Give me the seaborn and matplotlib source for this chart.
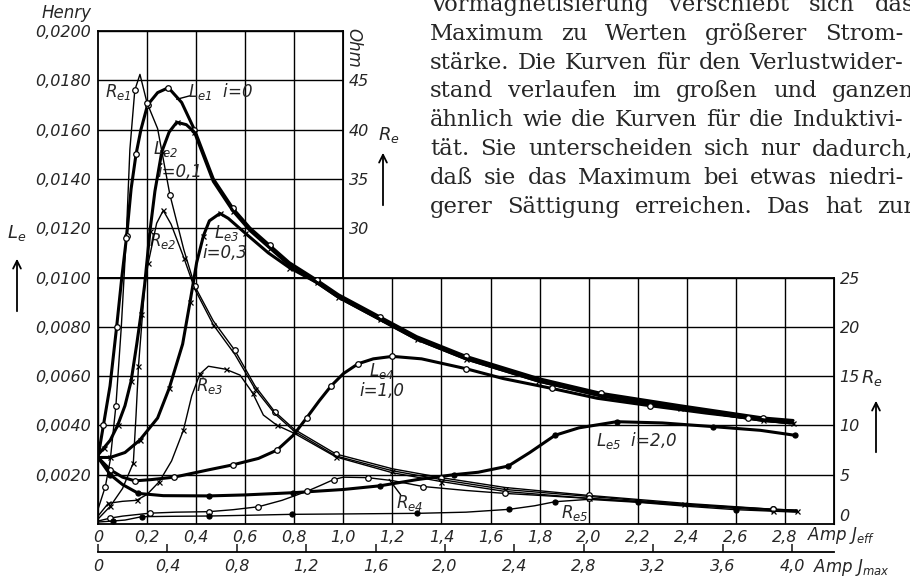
import numpy as np
import matplotlib
matplotlib.use("Agg")
import matplotlib.pyplot as plt
from matplotlib.patches import FancyArrowPatch
import seaborn as sns

# Induktivitaet L_e (Henry) ueber J_eff (Amp), Vormagnetisierung i
le1_x = [0.0, 0.022, 0.049, 0.076, 0.097, 0.117, 0.135, 0.155, 0.175, 0.202, 0.243, 0.287, 0.341, 0.393, 0.47,
         0.55, 0.62, 0.7, 0.78, 0.891, 0.98, 1.149, 1.299, 1.5, 1.795, 2.05, 2.372, 2.712, 2.833]
le1_y = [0.0027, 0.0040, 0.0056, 0.0080, 0.0100, 0.0117, 0.0136, 0.0150, 0.0160, 0.0170, 0.0175, 0.0177, 0.0171,
         0.0160, 0.0140, 0.0128, 0.0120, 0.0113, 0.0106, 0.0099, 0.0093, 0.0084, 0.0076, 0.0068, 0.0059, 0.0053,
         0.0048, 0.0043, 0.0042]
le2_x = [0.0, 0.025, 0.05, 0.08, 0.11, 0.135, 0.158, 0.175, 0.19, 0.212, 0.232, 0.26, 0.29, 0.321, 0.36, 0.393,
         0.47, 0.55, 0.62, 0.7, 0.78, 0.891, 0.98, 1.149, 1.299, 1.5, 1.795, 2.05, 2.372, 2.712, 2.833]
le2_y = [0.0028, 0.0031, 0.0034, 0.0040, 0.0048, 0.0058, 0.0073, 0.0085, 0.0097, 0.0119, 0.0135, 0.0151, 0.0159,
         0.0163, 0.0162, 0.0159, 0.0139, 0.0127, 0.0119, 0.0112, 0.0105, 0.0098, 0.0092, 0.0083, 0.0075, 0.0067,
         0.0058, 0.0052, 0.0047, 0.0042, 0.0041]
le3_x = [0.0, 0.05, 0.11, 0.17, 0.243, 0.29, 0.345, 0.375, 0.402, 0.43, 0.454, 0.497, 0.531, 0.6, 0.694, 0.78,
         0.891, 0.98, 1.149, 1.299, 1.5, 1.795, 2.05, 2.372, 2.712, 2.833]
le3_y = [0.0027, 0.0027, 0.0029, 0.0034, 0.0043, 0.0055, 0.0073, 0.0090, 0.0106, 0.0117, 0.0123, 0.0126, 0.0124,
         0.0118, 0.0110, 0.0104, 0.0098, 0.0092, 0.0083, 0.0075, 0.0067, 0.0058, 0.0052, 0.0047, 0.0042, 0.0041]
le4_x = [0.0, 0.05, 0.1, 0.15, 0.216, 0.31, 0.452, 0.55, 0.654, 0.73, 0.796, 0.85, 0.902, 0.95, 1.0, 1.06, 1.122,
         1.2, 1.319, 1.5, 1.652, 1.85, 2.035, 2.25, 2.478, 2.65, 2.82]
le4_y = [0.0027, 0.0022, 0.0019, 0.00175, 0.0018, 0.0019, 0.0022, 0.0024, 0.00266, 0.0030, 0.0036, 0.0043, 0.0050,
         0.0056, 0.0061, 0.0065, 0.0067, 0.0068, 0.0067, 0.0063, 0.0059, 0.0055, 0.0051, 0.0048, 0.0045, 0.0043,
         0.0041]
le5_x = [0.0, 0.05, 0.1, 0.165, 0.266, 0.454, 0.6, 0.796, 1.0, 1.15, 1.3, 1.45, 1.55, 1.672, 1.76, 1.863, 1.96,
         2.114, 2.3, 2.508, 2.7, 2.84]
le5_y = [0.0027, 0.0020, 0.0016, 0.00124, 0.00115, 0.00114, 0.00118, 0.00127, 0.0014, 0.00155, 0.0018, 0.0020,
         0.0021, 0.00235, 0.0029, 0.0036, 0.0039, 0.00415, 0.0041, 0.00395, 0.0038, 0.0036]

# Verlustwiderstand R_e (Ohm)
re1_x = [0.0, 0.03, 0.05, 0.073, 0.095, 0.115, 0.13, 0.15, 0.171, 0.2, 0.243, 0.293, 0.35, 0.395, 0.47, 0.558,
         0.64, 0.72, 0.8, 0.97, 1.2, 1.4, 1.66, 2.0, 2.39, 2.75, 2.85]
re1_r = [1.5, 3.8, 6.5, 12, 20, 29, 38, 44, 45.6, 42.7, 40.1, 33.4, 27.8, 24.1, 20.6, 17.6, 14.0, 11.4, 9.6, 7.1,
         5.6, 4.7, 3.7, 2.9, 2.1, 1.5, 1.4]
re2_x = [0.0, 0.05, 0.1, 0.144, 0.155, 0.165, 0.19, 0.205, 0.239, 0.266, 0.298, 0.35, 0.395, 0.47, 0.558, 0.64,
         0.72, 0.8, 0.97, 1.2, 1.4, 1.66, 2.0, 2.39, 2.75, 2.85]
re2_r = [0.5, 1.8, 3.6, 6.2, 11, 16, 24, 26.5, 30.5, 31.8, 30.4, 27.0, 23.8, 20.2, 17.2, 13.7, 11.2, 9.4, 6.9,
         5.4, 4.5, 3.5, 2.8, 2.0, 1.45, 1.35]
re3_x = [0.0, 0.042, 0.1, 0.157, 0.2, 0.25, 0.3, 0.348, 0.382, 0.415, 0.45, 0.52, 0.579, 0.63, 0.674, 0.73, 0.8,
         0.97, 1.2, 1.4, 1.66, 2.0, 2.39, 2.75, 2.85]
re3_r = [0.8, 2.1, 2.3, 2.4, 3.0, 4.3, 6.4, 9.5, 13.0, 15.2, 16.0, 15.7, 15.1, 13.3, 11.05, 10.0, 9.2, 6.8, 5.2,
         4.3, 3.3, 2.6, 1.9, 1.35, 1.25]
re4_x = [0.0, 0.05, 0.1, 0.212, 0.318, 0.452, 0.55, 0.654, 0.75, 0.85, 0.906, 0.96, 1.0, 1.1, 1.2, 1.326, 1.5,
         1.66, 1.8, 2.0, 2.39, 2.75, 2.85]
re4_r = [0.3, 0.6, 0.8, 1.1, 1.2, 1.25, 1.45, 1.75, 2.4, 3.3, 3.9, 4.5, 4.75, 4.7, 4.4, 3.8, 3.4, 3.1, 2.9, 2.6,
         2.0, 1.5, 1.4]
re5_x = [0.0, 0.06, 0.11, 0.178, 0.3, 0.454, 0.6, 0.79, 1.0, 1.3, 1.5, 1.677, 1.78, 1.863, 2.0, 2.2, 2.4, 2.6, 2.85]
re5_r = [0.2, 0.3, 0.4, 0.74, 0.78, 0.81, 0.88, 0.98, 1.02, 1.08, 1.2, 1.49, 1.85, 2.26, 2.5, 2.2, 1.8, 1.45, 1.2]

# Achsen
jeff_ticks = [0, 0.2, 0.4, 0.6, 0.8, 1.0, 1.2, 1.4, 1.6, 1.8, 2.0, 2.2, 2.4, 2.6, 2.8]
jmax_ticks = [0, 0.4, 0.8, 1.2, 1.6, 2.0, 2.4, 2.8, 3.2, 3.6, 4.0]
le_lo_ticks = [0.002, 0.004, 0.006, 0.008, 0.010]
le_hi_ticks = [0.012, 0.014, 0.016, 0.018, 0.020]
re_lo_ticks = [0, 5, 10, 15, 20, 25]
re_hi_ticks = [30, 35, 40, 45]

text_lines = [
    "Vormagnetisierung verschiebt sich das",
    "Maximum zu Werten größerer Strom-",
    "stärke. Die Kurven für den Verlustwider-",
    "stand verlaufen im großen und ganzen",
    "ähnlich wie die Kurven für die Induktivi-",
    "tät. Sie unterscheiden sich nur dadurch,",
    "daß sie das Maximum bei etwas niedri-",
    "gerer Sättigung erreichen. Das hat zur",
]

sns.set_style("white", {"axes.edgecolor": "k"})
plt.rcParams["font.family"] = ["DejaVu Sans"]
plt.rcParams["font.style"] = "italic"
plt.rcParams["mathtext.fontset"] = "dejavusans"
plt.rcParams["mathtext.default"] = "it"

W, H = 910, 578


def fp(x, y):
    # Bildpunkt (von oben gezaehlt) -> Figurenkoordinaten
    return x / W, 1 - y / H


def comma(v, fmt):
    return "0" if v == 0 else format(v, fmt).replace(".", ",")


fig = plt.figure(figsize=(9.1, 5.78), dpi=100)
ax = fig.add_axes([98 / W, 54 / H, 736 / W, 493 / H])
ax.set_xlim(0, 3.0)
ax.set_ylim(0, 0.02)
ax.axis("off")
ax_r = ax.twinx()
ax_r.set_ylim(0, 50)
ax_r.axis("off")

# Gitterkaesten: unten 0..3 A / 0..0,01 H, oben 0..1 A / 0,01..0,02 H
lo = ax.inset_axes([0, 0, 3.0, 0.01], transform=ax.transData, zorder=1)
hi = ax.inset_axes([0, 0.01, 1.0, 0.01], transform=ax.transData, zorder=1)
lo.set_xlim(0, 3.0)
lo.set_ylim(0, 0.01)
hi.set_xlim(0, 1.0)
hi.set_ylim(0.01, 0.02)
lo.set_xticks(jeff_ticks, [comma(v, ".1f") for v in jeff_ticks])
lo.set_yticks(le_lo_ticks, [comma(v, ".4f") for v in le_lo_ticks])
hi.set_xticks(jeff_ticks[1:5], [])
hi.set_yticks(le_hi_ticks, [comma(v, ".4f") for v in le_hi_ticks])
for a in (lo, hi):
    a.set_facecolor("none")
    a.grid(True, color="k", lw=1.0)
    a.tick_params(length=0, labelsize=11.5, pad=5)
    for s in a.spines.values():
        s.set_linewidth(1.3)
lo.tick_params(axis="x", pad=4)

to_ohm = (lambda v: v * 2500, lambda v: v / 2500)
for a, ticks in ((lo, re_lo_ticks), (hi, re_hi_ticks)):
    sec = a.secondary_yaxis("right", functions=to_ohm)
    sec.set_yticks(ticks, [str(t) for t in ticks])
    sec.tick_params(length=0, labelsize=11.5, pad=4)
    if a is lo:
        # die "0" sitzt etwas ueber der Grundlinie
        sec.get_yticklabels()[0].set_verticalalignment("bottom")

sec_x = lo.secondary_xaxis(-28 / 246.5, functions=(lambda v: v * np.sqrt(2), lambda v: v / np.sqrt(2)))
sec_x.set_xticks(jmax_ticks, [comma(v, ".1f") for v in jmax_ticks])
sec_x.tick_params(direction="in", length=6, width=1.2, labelsize=11.5, pad=5)
sec_x.spines["bottom"].set_linewidth(1.3)

# Kurven: L_e dick, R_e duenn
l_curves = [(le1_x, le1_y, "o", "w"), (le2_x, le2_y, "x", "k"), (le3_x, le3_y, "x", "k"),
            (le4_x, le4_y, "o", "w"), (le5_x, le5_y, "o", "k")]
r_curves = [(re1_x, re1_r, "o", "w"), (re2_x, re2_r, "x", "k"), (re3_x, re3_r, "x", "k"),
            (re4_x, re4_r, "o", "w"), (re5_x, re5_r, "o", "k")]
for target, curves, lw in ((ax, l_curves, 2.2), (ax_r, r_curves, 1.0)):
    for xs, ys, m, fc in curves:
        sns.lineplot(x=xs, y=ys, ax=target, color="k", lw=lw, marker=m, markevery=(1, 2),
                     ms=4 if fc == "w" else 3.6, mfc=fc, mec="k", mew=0.9,
                     estimator=None, sort=False, legend=False, zorder=3)
ax.set_xlim(0, 3.0)
ax.set_ylim(0, 0.02)
ax_r.set_ylim(0, 50)

# Kurvenbeschriftungen
lab = dict(fontsize=12, ha="center", va="center", zorder=4)
ax.text(0.082, 0.01753, r"$R_{e1}$", **lab)
ax.text(0.50, 0.01753, r"$L_{e1}$  i=0", **lab)
ax.text(0.277, 0.0152, r"$L_{e2}$", **lab)
ax.text(0.335, 0.0143, "i=0,1", **lab)
ax.text(0.265, 0.0115, r"$R_{e2}$", **lab)
ax.text(0.522, 0.0118, r"$L_{e3}$", **lab)
ax.text(0.518, 0.0110, "i=0,3", **lab)
ax.text(0.456, 0.0056, r"$R_{e3}$", **lab)
ax.text(1.157, 0.0062, r"$L_{e4}$", **lab)
ax.text(1.157, 0.0054, "i=1,0", **lab)
ax.text(2.197, 0.0034, r"$L_{e5}$  i=2,0", **lab)
ax.text(1.272, 0.00085, r"$R_{e4}$", **lab)
ax.text(1.944, 0.00045, r"$R_{e5}$", **lab)
ax.annotate("", xy=(0.31, 0.0172), xytext=(0.385, 0.0174), arrowprops=dict(arrowstyle="-", lw=1.0, color="k"))
ax.annotate("", xy=(1.18, 0.0019), xytext=(1.24, 0.0011), arrowprops=dict(arrowstyle="-", lw=1.0, color="k"))

# Achsentitel und Pfeile
fig.text(*fp(67, 13), "Henry", fontsize=12, ha="center", va="center")
fig.text(*fp(353, 48), "Ohm", fontsize=12, ha="center", va="center", rotation=-90)
fig.text(*fp(17, 233), r"$L_e$", fontsize=13, ha="center", va="center")
fig.text(*fp(389, 135), r"$R_e$", fontsize=13, ha="center", va="center")
fig.text(*fp(872, 378), r"$R_e$", fontsize=13, ha="center", va="center")
fig.text(*fp(807, 535), r"Amp $J_{eff}$", fontsize=12, ha="left", va="center")
fig.text(*fp(813, 567), r"Amp $J_{max}$", fontsize=12, ha="left", va="center")
for x0, y_head, y_tail in ((17, 256, 314), (383, 150, 208), (876, 398, 455)):
    fig.add_artist(FancyArrowPatch(fp(x0, y_tail), fp(x0, y_head), transform=fig.transFigure,
                                   arrowstyle="->", mutation_scale=14, lw=1.3, color="k"))

# Buchtext oben rechts, Blocksatz
renderer = fig.canvas.get_renderer()
for i, line in enumerate(text_lines):
    words = line.split()
    y = 1 - (11 + 28.8 * i) / H
    texts = [fig.text(0, y, w, family="DejaVu Serif", style="normal", fontsize=16.3, va="baseline")
             for w in words]
    widths = [t.get_window_extent(renderer).width for t in texts]
    right = 903 if line.endswith("-") else 914
    gap = (right - 430 - sum(widths)) / (len(words) - 1)
    x = 430
    for t, w in zip(texts, widths):
        t.set_x(x / W)
        x += w + gap

fig.savefig("out.png", dpi=100)
